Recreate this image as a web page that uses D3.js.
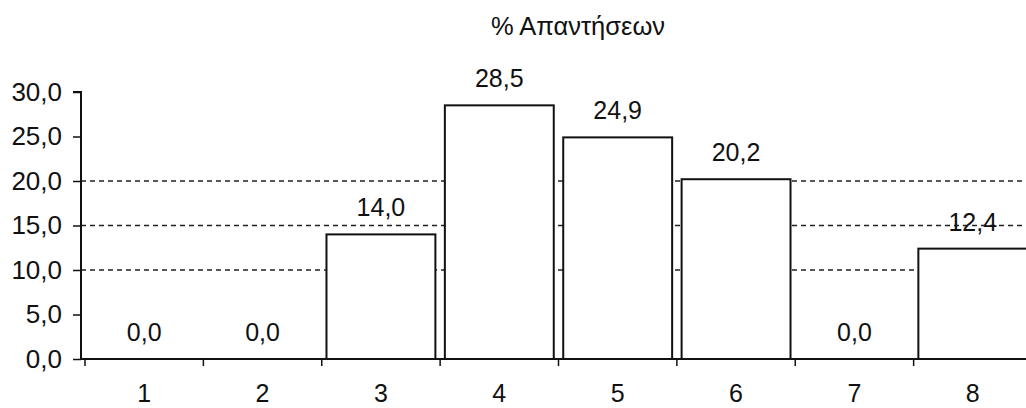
<!DOCTYPE html>
<html>
<head>
<meta charset="utf-8">
<script src="https://cdn.jsdelivr.net/npm/d3@7"></script>
<style>
  html, body { margin: 0; padding: 0; background: #fff; }
  svg { display: block; }
  text { font-family: "Liberation Sans", Arial, sans-serif; fill: #111; }
</style>
</head>
<body>
<svg id="chart" width="1026" height="408"></svg>
<script>
const titleText = "% Απαντήσεων";
const categories = ["1", "2", "3", "4", "5", "6", "7", "8"];
const values = [0.0, 0.0, 14.0, 28.5, 24.9, 20.2, 0.0, 12.4];
const yTicks = [0, 5, 10, 15, 20, 25, 30];
const gridValues = [10, 15, 20];

const fmt = v => v.toFixed(1).replace(".", ",");

const svg = d3.select("#chart");
const W = 1026, H = 408;
const mLeft = 81, xStart = 85, mRight = 1032, mTop = 92, mBottom = 359;

const x = d3.scaleBand().domain(categories).range([xStart, mRight]).paddingInner(0.08).paddingOuter(0.04);
const y = d3.scaleLinear().domain([0, 30]).range([mBottom, mTop]);

// title
svg.append("text").attr("x", 578).attr("y", 35).attr("text-anchor", "middle")
  .style("font-size", "25.5px").text(titleText);

// gridlines
svg.append("g").selectAll("line").data(gridValues).join("line")
  .attr("x1", mLeft).attr("x2", W).attr("y1", d => y(d)).attr("y2", d => y(d))
  .attr("stroke", "#222").attr("stroke-width", 1.5).attr("stroke-dasharray", "5,4");

// bars
svg.append("g").selectAll("rect").data(values).join("rect")
  .attr("x", (d, i) => x(categories[i]))
  .attr("width", x.bandwidth())
  .attr("y", d => y(d))
  .attr("height", d => y(0) - y(d))
  .attr("fill", "#fff").attr("stroke", "#111").attr("stroke-width", 2);

// value labels
svg.append("g").selectAll("text").data(values).join("text")
  .attr("x", (d, i) => x(categories[i]) + x.bandwidth() / 2)
  .attr("y", d => y(d) - 18)
  .attr("text-anchor", "middle")
  .style("font-size", "25px")
  .text(d => fmt(d));

// y axis
const yAxis = d3.axisLeft(y).tickValues(yTicks).tickFormat(fmt).tickSize(8).tickPadding(11);
const gy = svg.append("g").attr("transform", `translate(${mLeft},0)`).call(yAxis);
gy.select(".domain").attr("stroke", "#111").attr("stroke-width", 2).attr("d", `M-8,${mTop}H0V${mBottom}`);
gy.selectAll(".tick line").attr("stroke", "#111").attr("stroke-width", 1.5);
gy.selectAll(".tick text").style("font-size", "26px").style("font-family", "'Liberation Sans', Arial, sans-serif").attr("fill", "#111");

// x axis
const xAxis = d3.axisBottom(x).tickSize(0).tickPadding(25);
const gx = svg.append("g").attr("transform", `translate(0,${mBottom})`).call(xAxis);
gx.select(".domain").attr("stroke", "#111").attr("stroke-width", 2).attr("d", `M${mLeft},0H${W}`);
gx.selectAll(".tick text").style("font-size", "25px").style("font-family", "'Liberation Sans', Arial, sans-serif").attr("fill", "#111");

// category boundary ticks
const bounds = d3.range(categories.length + 1).map(i => xStart + i * x.step());
svg.append("g").selectAll("line").data(bounds).join("line")
  .attr("x1", d => d).attr("x2", d => d).attr("y1", mBottom).attr("y2", mBottom + 7)
  .attr("stroke", "#111").attr("stroke-width", 1.5);
</script>
</body>
</html>
